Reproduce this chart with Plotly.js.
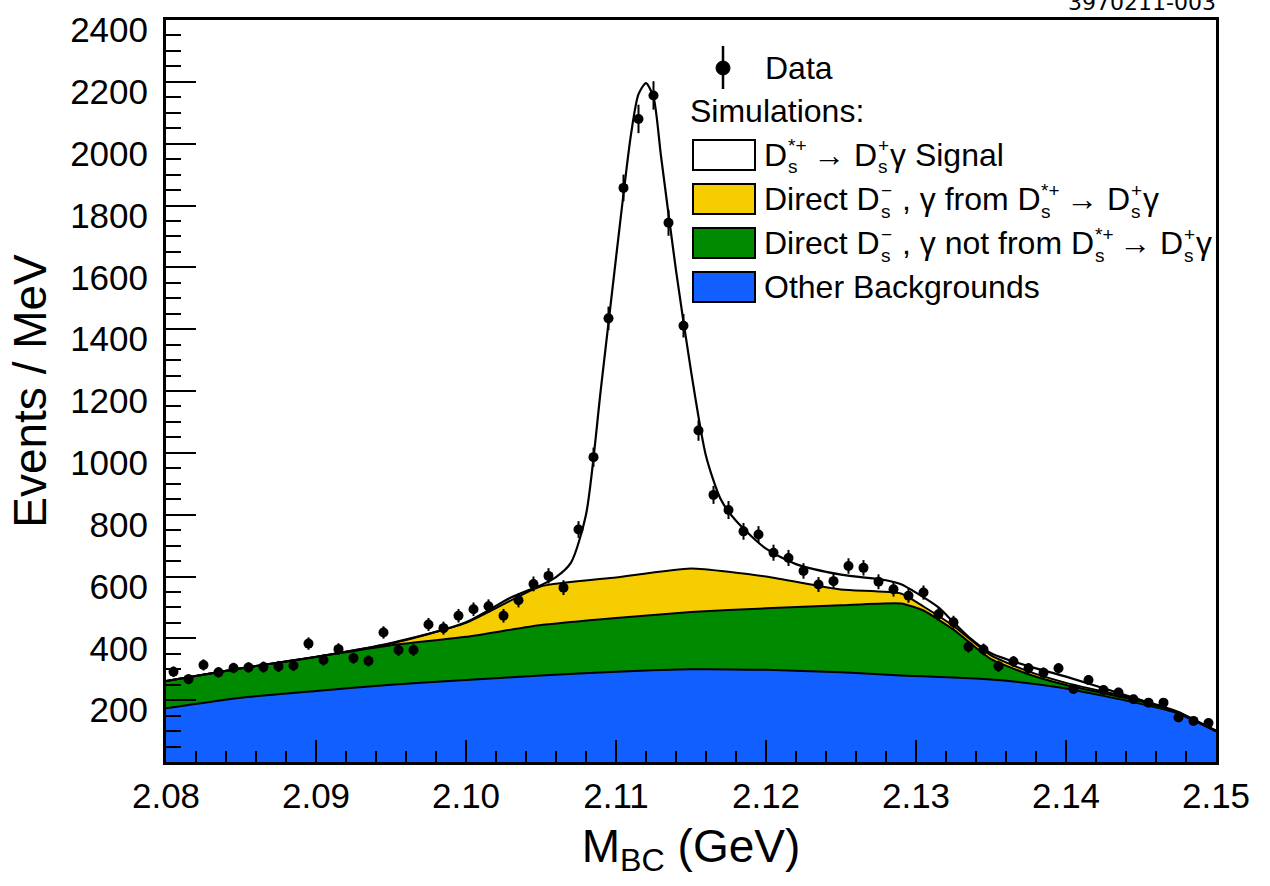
<!DOCTYPE html>
<html>
<head>
<meta charset="utf-8">
<script src="https://cdn.plot.ly/plotly-3.0.1.min.js"></script>
<style>html,body{margin:0;padding:0;background:#fff;}#chart{width:1270px;height:886px;}</style>
</head>
<body>
<div id="chart"></div>
<script>
// ---- data ----
var binCenters = [2.0805,2.0815,2.0825,2.0835,2.0845,2.0855,2.0865,2.0875,2.0885,2.0895,
                  2.0905,2.0915,2.0925,2.0935,2.0945,2.0955,2.0965,2.0975,2.0985,2.0995,
                  2.1005,2.1015,2.1025,2.1035,2.1045,2.1055,2.1065,2.1075,2.1085,2.1095,
                  2.1105,2.1115,2.1125,2.1135,2.1145,2.1155,2.1165,2.1175,2.1185,2.1195,
                  2.1205,2.1215,2.1225,2.1235,2.1245,2.1255,2.1265,2.1275,2.1285,2.1295,
                  2.1305,2.1315,2.1325,2.1335,2.1345,2.1355,2.1365,2.1375,2.1385,2.1395,
                  2.1405,2.1415,2.1425,2.1435,2.1445,2.1455,2.1465,2.1475,2.1485,2.1495];
var dataCounts = [292,268,314,290,304,306,307,309,312,383,
                  330,365,336,327,419,362,362,445,433,473,
                  494,504,473,523,576,602,564,752,986,1435,
                  1857,2080,2156,1744,1411,1072,864,815,746,736,
                  677,660,618,574,585,634,628,583,559,538,
                  548,478,452,373,364,310,325,303,289,303,
                  236,265,233,225,203,192,192,144,133,126];
var dataErrors = [17,16,18,17,17,17,18,18,18,20,
                  18,19,18,18,20,19,19,21,21,22,
                  22,22,22,23,24,25,24,27,31,38,
                  43,46,46,42,38,33,29,29,27,27,
                  26,26,25,24,24,25,25,24,24,23,
                  23,22,21,19,19,18,18,17,17,17,
                  15,16,15,15,14,14,14,12,12,11];

// simulation components (cumulative tops of the stacked areas)
var simX       = [2.080,2.085,2.090,2.095,2.100,2.105,2.110,2.115,2.120,2.125,2.129,2.1305,2.1325,2.135,2.1375,2.140,2.145,2.1475,2.150];
var otherBkg   = [174,208,230,250,265,280,292,300,298,290,280,277,273,267,255,238,188,156,99];
var notFromTop = [262,303,340,378,405,443,466,485,497,507,513,490,428,333,284,249,196,160,100];
var fromTop    = [262,303,340,383,450,568,597,626,600,558,545,503,440,345,293,256,200,162,100];

// total (signal + all backgrounds)
var totalX = [2.080,2.085,2.090,2.095,2.100,2.103,2.105,2.106,2.107,2.108,2.109,2.110,2.111,2.1115,2.112,2.1125,2.113,2.114,2.115,2.116,2.117,2.118,2.120,2.122,2.125,2.128,2.129,2.130,2.1315,2.1325,2.1335,2.135,2.1375,2.140,2.145,2.1475,2.150];
var totalY = [262,303,340,385,452,532,572,598,645,800,1210,1630,2030,2160,2196,2150,1960,1590,1265,990,848,780,690,640,606,588,575,548,500,452,405,352,310,276,200,158,102];

var xTickVals = [2.08,2.09,2.10,2.11,2.12,2.13,2.14,2.15];
var xTickText = ["2.08","2.09","2.10","2.11","2.12","2.13","2.14","2.15"];
var yTickVals = [200,400,600,800,1000,1200,1400,1600,1800,2000,2200,2400];

// legend entries: plain text pieces, stacked [superscript, subscript] pieces, numbers = small gaps
var legendRows = [
  ['D', ['*+','s'], 5, '→ D', ['+','s'], 'γ Signal'],
  ['Direct D', ['−','s'], ' , γ from D', ['*+','s'], 5, '→ D', ['+','s'], 'γ'],
  ['Direct D', ['−','s'], ' , γ not from D', ['*+','s'], 5, '→ D', ['+','s'], 'γ'],
  ['Other Backgrounds']
];

var BLUE = '#115fff', GREEN = '#008a00', YELLOW = '#f6cd00';
var FAM = 'Liberation Sans, Arial, sans-serif';

var traces = [
  {x: simX, y: otherBkg, type:'scatter', mode:'lines', fill:'tozeroy', fillcolor:BLUE,
   line:{color:'#000', width:2, shape:'spline', smoothing:0.6}, hoverinfo:'skip', showlegend:false},
  {x: simX, y: notFromTop, type:'scatter', mode:'lines', fill:'tonexty', fillcolor:GREEN,
   line:{color:'#000', width:2, shape:'spline', smoothing:0.5}, hoverinfo:'skip', showlegend:false},
  {x: simX, y: fromTop, type:'scatter', mode:'lines', fill:'tonexty', fillcolor:YELLOW,
   line:{color:'#000', width:2, shape:'spline', smoothing:0.5}, hoverinfo:'skip', showlegend:false},
  {x: totalX, y: totalY, type:'scatter', mode:'lines',
   line:{color:'#000', width:2.2, shape:'spline', smoothing:0.7}, hoverinfo:'skip', showlegend:false},
  {x: binCenters, y: dataCounts, type:'scatter', mode:'markers',
   marker:{color:'#000', size:10, symbol:'circle'},
   error_y:{type:'data', array:dataErrors, visible:true, color:'#000', thickness:2, width:0},
   showlegend:false}
];

// legend helpers (paper coordinates from pixel positions)
var L = 166, R = 1216, T = 20, B = 762;
function xp(px){ return (px - L)/(R - L); }
function yp(py){ return (B - py)/(B - T); }

var shapes = [
  {type:'line', xref:'paper', yref:'paper', x0:xp(723), x1:xp(723), y0:yp(46), y1:yp(89), line:{color:'#000', width:2.5}},
  {type:'circle', xref:'paper', yref:'paper', x0:xp(716), x1:xp(730), y0:yp(75), y1:yp(61), fillcolor:'#000', line:{color:'#000', width:1}}
];
var boxRows = [155, 199, 243, 287];
var boxFills = ['#ffffff', YELLOW, GREEN, BLUE];
boxRows.forEach(function(c, i){
  shapes.push({type:'rect', xref:'paper', yref:'paper', x0:xp(693), x1:xp(755), y0:yp(c+15), y1:yp(c-15),
               fillcolor:boxFills[i], line:{color:'#000', width:2}});
});

var LEG = 32, SCR = 19;
var legFont = {family:FAM, size:LEG, color:'#000'};
var scrFont = {family:FAM, size:SCR, color:'#000'};
var annotations = [
  {xref:'paper', yref:'paper', x:xp(763), y:yp(68), xanchor:'left', yanchor:'middle', text:'Data', showarrow:false, font:legFont},
  {xref:'paper', yref:'paper', x:xp(688), y:yp(111), xanchor:'left', yanchor:'middle', text:'Simulations:', showarrow:false, font:legFont},
  {xref:'paper', yref:'paper', x:xp(1218), y:yp(3), xanchor:'right', yanchor:'middle', text:'3970211-003', showarrow:false,
   font:{family:'DejaVu Sans, sans-serif', size:22, color:'#000'}}
];

var ctx = document.createElement('canvas').getContext('2d');
function textW(str, size){ ctx.font = size + 'px "Liberation Sans", Arial, sans-serif'; return ctx.measureText(str).width; }
var spaceW = textW(' ', LEG);

legendRows.forEach(function(pieces, i){
  var c = boxRows[i];
  var cur = 763;
  pieces.forEach(function(p){
    if (typeof p === 'number') {
      cur += p;
    } else if (typeof p === 'string') {
      var lead = p.match(/^ */)[0].length, trail = p.match(/ *$/)[0].length, core = p.trim();
      cur += lead * spaceW;
      annotations.push({xref:'paper', yref:'paper', x:xp(cur), y:yp(c), xanchor:'left', yanchor:'middle',
                        text:core, showarrow:false, font:legFont, borderpad:0});
      cur += textW(core, LEG) + trail * spaceW;
    } else {
      annotations.push({xref:'paper', yref:'paper', x:xp(cur + 1), y:yp(c - 9), xanchor:'left', yanchor:'middle',
                        text:p[0], showarrow:false, font:scrFont, borderpad:0});
      annotations.push({xref:'paper', yref:'paper', x:xp(cur + 1), y:yp(c + 12), xanchor:'left', yanchor:'middle',
                        text:p[1], showarrow:false, font:scrFont, borderpad:0});
      cur += Math.max(textW(p[0], SCR), textW(p[1], SCR)) + 2;
    }
  });
});

var tickFont = {family:FAM, size:35, color:'#000'};
var layout = {
  width:1270, height:886,
  margin:{l:L, r:1270-R, t:T, b:886-B},
  paper_bgcolor:'#fff', plot_bgcolor:'#fff',
  showlegend:false,
  xaxis:{
    range:[2.08, 2.15], tickmode:'array', tickvals:xTickVals, ticktext:xTickText,
    ticks:'inside', ticklen:22, tickwidth:2, tickcolor:'#000',
    minor:{tickmode:'linear', tick0:2.08, dtick:0.002, ticks:'inside', ticklen:11, tickwidth:2, tickcolor:'#000', showgrid:false},
    showline:true, linecolor:'#000', linewidth:3, mirror:true,
    showgrid:false, zeroline:false, tickfont:tickFont, ticklabelstandoff:1,
    title:{text:'M<sub>BC</sub> (GeV)', font:{family:FAM, size:46, color:'#000'}, standoff:16},
    automargin:false
  },
  yaxis:{
    range:[0, 2400], tickmode:'array', tickvals:yTickVals,
    ticks:'inside', ticklen:30, tickwidth:2, tickcolor:'#000',
    minor:{tickmode:'linear', tick0:0, dtick:50, ticks:'inside', ticklen:15, tickwidth:2, tickcolor:'#000', showgrid:false},
    showline:true, linecolor:'#000', linewidth:3, mirror:true,
    showgrid:false, zeroline:false, tickfont:tickFont, ticklabelstandoff:8, ticklabelshift:10,
    title:{text:'Events / MeV', font:{family:FAM, size:46, color:'#000'}, standoff:10},
    automargin:false
  },
  shapes:shapes,
  annotations:annotations
};

Plotly.newPlot('chart', traces, layout, {displayModeBar:false, staticPlot:true});
</script>
</body>
</html>
